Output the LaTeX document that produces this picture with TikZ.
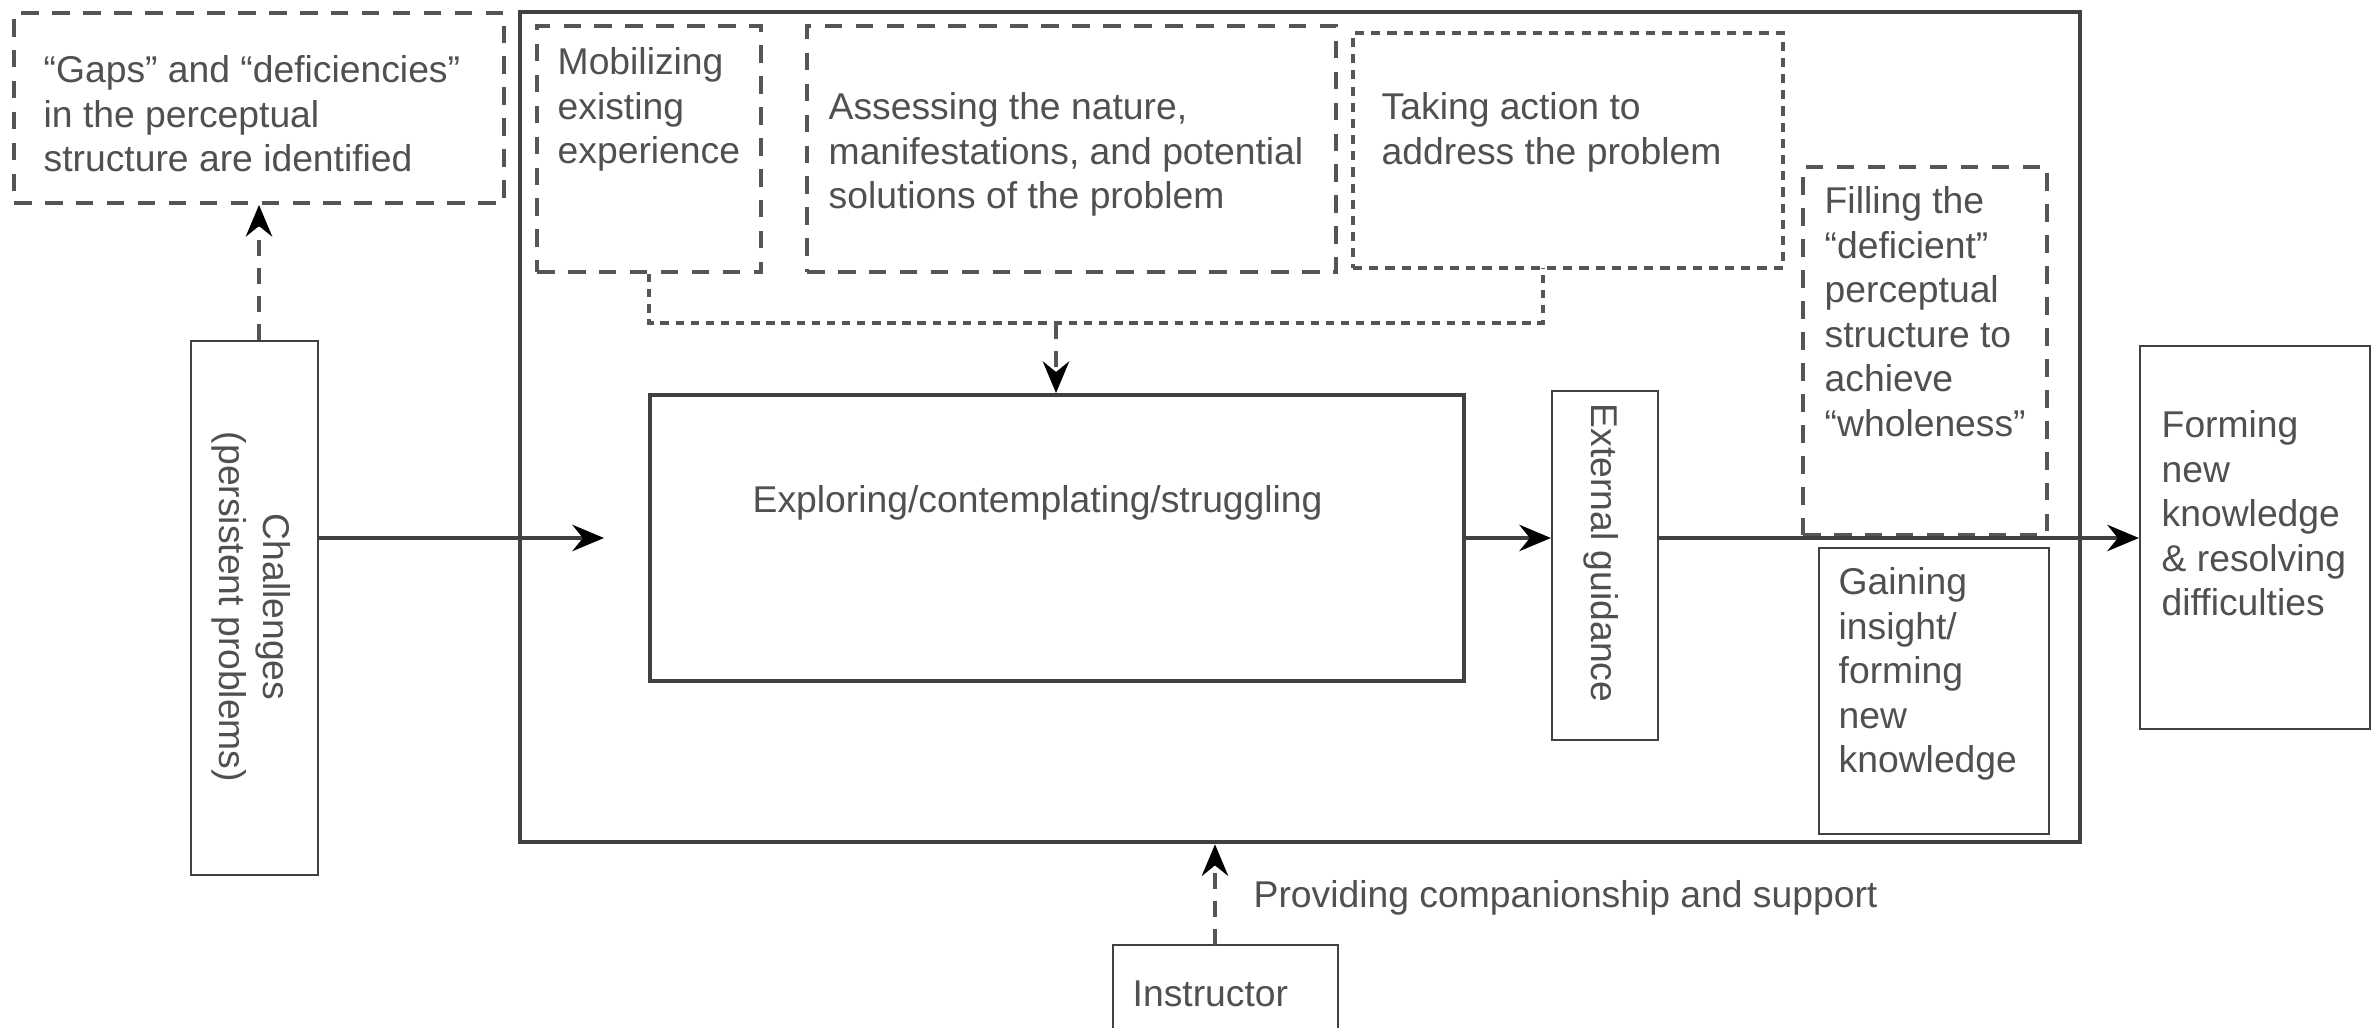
\documentclass[tikz,border=0pt]{standalone}
\usepackage{fontspec}
\setmainfont{Liberation Sans}
\usepackage{tikz}
\usetikzlibrary{arrows.meta,fit}
\definecolor{ink}{HTML}{505050}
\definecolor{rule}{HTML}{555555}
\definecolor{frame}{HTML}{404040}
\tikzset{
  dashbox/.style={draw=rule, line width=1.1pt, dash pattern=on 5pt off 3.8pt, inner sep=0pt},
  dotbox/.style={draw=rule, line width=1pt, dash pattern=on 2.6pt off 2pt, inner sep=0pt},
  thinbox/.style={draw=frame, line width=0.6pt, inner sep=0pt},
  thickbox/.style={draw=frame, line width=1.1pt, inner sep=0pt},
  lab/.style={text=ink, font=\fontsize{10.6}{12.66}\selectfont, inner sep=0pt, align=left},
  flow/.style={draw=frame, line width=1.1pt, -{Stealth[length=9pt,width=7.5pt,inset=3pt,color=black]}},
  dashflow/.style={draw=rule, line width=1.1pt, dash pattern=on 4.5pt off 3.5pt, -{Stealth[length=9pt,width=7.5pt,inset=3pt,color=black]}},
  bracketline/.style={draw=rule, line width=0.9pt, dash pattern=on 2.4pt off 1.9pt},
}

\begin{document}
\begin{tikzpicture}[x=0.01cm, y=-0.01cm]
\useasboundingbox (0,0) rectangle (2372,1028);
\clip (0,0) rectangle (2372,1028);
\fill[white] (0,0) rectangle (2372,1028);

\node[thickbox, line width=1.3pt, fit={(520,12) (2080,842)}] (stage) {};
\node[dashbox, fit={(14,13) (504,203)}] (gaps) {};
\node[dashbox, fit={(537,26) (761,272)}] (mobil) {};
\node[dashbox, fit={(807,26) (1336,272)}] (assess) {};
\node[dotbox, fit={(1353,33) (1783,268)}] (action) {};
\node[dashbox, fit={(1803,167) (2047,535)}] (filling) {};
\node[thinbox, fit={(1819,548) (2049,834)}] (gaining) {};
\node[thinbox, fit={(2140,346) (2370,729)}] (forming) {};
\node[thickbox, fit={(650,395) (1464,681)}] (explore) {};
\node[thinbox, fit={(1552,391) (1658,740)}] (guidance) {};
\node[thinbox, fit={(191,341) (318,875)}] (challenge) {};
\node[thinbox, fit={(1113,945) (1338,1060)}] (instructor) {};

\node[lab, anchor=north west] (gapslabel) at (43,55) {“Gaps” and “deficiencies”\\in the perceptual\\structure are identified};
\node[lab, anchor=north west] (mobillabel) at (557,47) {Mobilizing\\existing\\experience};
\node[lab, anchor=north west] (assesslabel) at (828,92) {Assessing the nature,\\manifestations, and potential\\solutions of the problem};
\node[lab, anchor=north west] (actionlabel) at (1381,92) {Taking action to\\address the problem};
\node[lab, anchor=north west] (fillinglabel) at (1824,186) {Filling the\\“deficient”\\perceptual\\structure to\\achieve\\“wholeness”};
\node[lab, anchor=north west] (gaininglabel) at (1838,567) {Gaining\\insight/\\forming\\new\\knowledge};
\node[lab, anchor=north west] (forminglabel) at (2161,410) {Forming\\new\\knowledge\\\& resolving\\difficulties};
\node[lab, anchor=west] (explorelabel) at (752,503) {Exploring/contemplating/struggling};
\node[lab, rotate=-90] (guidancelabel) at (1601,553) {External guidance};
\node[lab, align=center, rotate=-90] (challengelabel) at (251,607) {Challenges\\(persistent problems)};
\node[lab, anchor=west] (instructorlabel) at (1132,994) {Instructor};
\node[lab, anchor=west] (helplabel) at (1253,898) {Providing companionship and support};

\coordinate (entry) at (604,538);
\coordinate (merge) at (1056,323);
\coordinate (actionfoot) at (1543,268);
\coordinate (helpfoot) at (1215,945);

\draw[flow] (challenge.east |- entry) -- (entry);
\draw[flow] (explore.east) -- (explore.east -| guidance.west);
\draw[flow] (guidance.east |- explore.east) -- (forming.west |- explore.east);
\draw[dashflow] (gaps.south |- challenge.north) -- (gaps.south);
\draw[bracketline] (mobil.south) |- (merge) -| (actionfoot);
\draw[dashflow] (merge) -- (merge |- explore.north);
\draw[dashflow] (helpfoot) -- (helpfoot |- stage.south);
\end{tikzpicture}
\end{document}
